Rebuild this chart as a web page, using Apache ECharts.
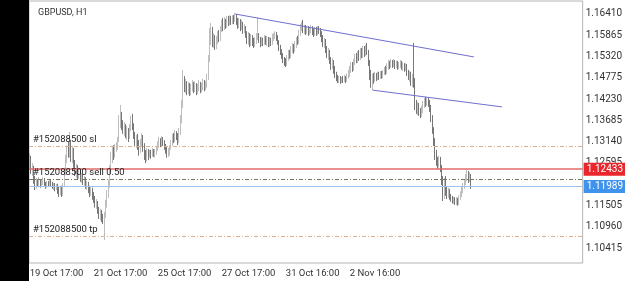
<!DOCTYPE html>
<html><head><meta charset="utf-8">
<script src="https://cdn.jsdelivr.net/npm/echarts@6/dist/echarts.min.js"></script>
<style>html,body{margin:0;padding:0;background:#fff}#c{width:625px;height:281px}</style>
</head><body><div id="c"></div>
<script>
// ---- data (OHLC per H1 bar: [open, close, low, high]) ----
const seg00 = [[1.1262,1.1273,1.1247,1.1285],[1.1273,1.1241,1.1231,1.1278],[1.1241,1.1247,1.1226,1.1259],[1.1247,1.1216,1.1206,1.1252],[1.1216,1.1201,1.1190,1.1226],[1.1201,1.1211,1.1193,1.1221],[1.1211,1.1206,1.1198,1.1218],[1.1206,1.1213,1.1201,1.1223],[1.1213,1.1203,1.1196,1.1218],[1.1203,1.1208,1.1198,1.1216],[1.1208,1.1216,1.1203,1.1223],[1.1216,1.1206,1.1201,1.1221],[1.1206,1.1201,1.1193,1.1211],[1.1201,1.1208,1.1196,1.1213],[1.1208,1.1203,1.1198,1.1213],[1.1203,1.1211,1.1201,1.1216],[1.1211,1.1206,1.1198,1.1218],[1.1206,1.1198,1.1193,1.1211],[1.1198,1.1203,1.1190,1.1208],[1.1203,1.1196,1.1187,1.1208],[1.1196,1.1201,1.1190,1.1206],[1.1201,1.1190,1.1180,1.1206],[1.1190,1.1182,1.1172,1.1198],[1.1182,1.1193,1.1177,1.1201]];
const seg01 = [[1.1193,1.1180,1.1172,1.1201],[1.1180,1.1203,1.1175,1.1208],[1.1203,1.1236,1.1198,1.1247],[1.1236,1.1267,1.1228,1.1280],[1.1267,1.1293,1.1259,1.1305],[1.1293,1.1280,1.1273,1.1313],[1.1280,1.1305,1.1273,1.1339],[1.1305,1.1273,1.1262,1.1318],[1.1273,1.1293,1.1259,1.1303],[1.1293,1.1254,1.1247,1.1298],[1.1254,1.1236,1.1226,1.1267],[1.1236,1.1247,1.1221,1.1257],[1.1247,1.1226,1.1216,1.1254],[1.1226,1.1236,1.1218,1.1247],[1.1236,1.1221,1.1211,1.1241],[1.1221,1.1226,1.1208,1.1233],[1.1226,1.1213,1.1203,1.1231],[1.1213,1.1218,1.1201,1.1226],[1.1218,1.1203,1.1193,1.1223],[1.1203,1.1206,1.1190,1.1213],[1.1206,1.1193,1.1182,1.1211],[1.1193,1.1185,1.1172,1.1201],[1.1185,1.1190,1.1175,1.1198],[1.1190,1.1175,1.1165,1.1196]];
const seg02 = [[1.1175,1.1167,1.1157,1.1185],[1.1167,1.1152,1.1145,1.1175],[1.1152,1.1157,1.1142,1.1167],[1.1157,1.1139,1.1129,1.1162],[1.1139,1.1126,1.1116,1.1147],[1.1126,1.1134,1.1113,1.1142],[1.1134,1.1119,1.1108,1.1139],[1.1119,1.1113,1.1103,1.1129],[1.1113,1.1126,1.1062,1.1134],[1.1126,1.1152,1.1119,1.1165],[1.1152,1.1177,1.1145,1.1190],[1.1177,1.1203,1.1170,1.1216],[1.1203,1.1241,1.1196,1.1254],[1.1241,1.1267,1.1233,1.1288],[1.1267,1.1293,1.1259,1.1303],[1.1293,1.1280,1.1267,1.1305],[1.1280,1.1298,1.1273,1.1308],[1.1298,1.1303,1.1288,1.1313],[1.1303,1.1318,1.1293,1.1326],[1.1318,1.1364,1.1313,1.1382],[1.1364,1.1374,1.1349,1.1408],[1.1374,1.1356,1.1344,1.1390],[1.1356,1.1344,1.1334,1.1369],[1.1344,1.1351,1.1328,1.1364]];
const seg03 = [[1.1351,1.1336,1.1323,1.1359],[1.1336,1.1344,1.1318,1.1354],[1.1344,1.1328,1.1313,1.1349],[1.1328,1.1349,1.1321,1.1359],[1.1349,1.1369,1.1341,1.1380],[1.1369,1.1354,1.1344,1.1385],[1.1354,1.1331,1.1321,1.1361],[1.1331,1.1313,1.1303,1.1339],[1.1313,1.1323,1.1298,1.1331],[1.1323,1.1305,1.1293,1.1334],[1.1305,1.1293,1.1278,1.1318],[1.1293,1.1310,1.1285,1.1321],[1.1310,1.1326,1.1300,1.1336],[1.1326,1.1300,1.1288,1.1331],[1.1300,1.1280,1.1267,1.1310],[1.1280,1.1273,1.1259,1.1293],[1.1273,1.1288,1.1264,1.1298],[1.1288,1.1278,1.1267,1.1295],[1.1278,1.1285,1.1273,1.1293],[1.1285,1.1280,1.1270,1.1293],[1.1280,1.1290,1.1275,1.1298],[1.1290,1.1283,1.1275,1.1295],[1.1283,1.1288,1.1273,1.1295],[1.1288,1.1295,1.1280,1.1303]];
const seg04 = [[1.1295,1.1305,1.1290,1.1315],[1.1305,1.1315,1.1298,1.1326],[1.1315,1.1308,1.1300,1.1323],[1.1308,1.1321,1.1300,1.1328],[1.1321,1.1310,1.1303,1.1326],[1.1310,1.1300,1.1293,1.1318],[1.1300,1.1293,1.1283,1.1308],[1.1293,1.1280,1.1273,1.1300],[1.1280,1.1288,1.1275,1.1298],[1.1288,1.1298,1.1278,1.1305],[1.1298,1.1308,1.1293,1.1318],[1.1308,1.1323,1.1303,1.1334],[1.1323,1.1318,1.1310,1.1336],[1.1318,1.1334,1.1313,1.1344],[1.1334,1.1326,1.1318,1.1341],[1.1326,1.1315,1.1305,1.1336],[1.1315,1.1339,1.1310,1.1349],[1.1339,1.1369,1.1331,1.1382],[1.1369,1.1408,1.1361,1.1421],[1.1408,1.1472,1.1400,1.1498],[1.1472,1.1452,1.1441,1.1482],[1.1452,1.1462,1.1438,1.1475],[1.1462,1.1446,1.1433,1.1469],[1.1446,1.1457,1.1436,1.1467]];
const seg05 = [[1.1457,1.1441,1.1431,1.1464],[1.1441,1.1452,1.1433,1.1462],[1.1452,1.1462,1.1443,1.1472],[1.1462,1.1449,1.1438,1.1467],[1.1449,1.1457,1.1441,1.1469],[1.1457,1.1446,1.1433,1.1464],[1.1446,1.1452,1.1436,1.1462],[1.1452,1.1459,1.1443,1.1472],[1.1459,1.1449,1.1438,1.1467],[1.1449,1.1457,1.1441,1.1464],[1.1457,1.1464,1.1446,1.1475],[1.1464,1.1454,1.1443,1.1472],[1.1454,1.1459,1.1446,1.1469],[1.1459,1.1477,1.1452,1.1488],[1.1477,1.1523,1.1472,1.1536],[1.1523,1.1574,1.1518,1.1605],[1.1574,1.1600,1.1562,1.1618],[1.1600,1.1569,1.1556,1.1608],[1.1569,1.1580,1.1554,1.1592],[1.1580,1.1562,1.1549,1.1587],[1.1562,1.1574,1.1551,1.1585],[1.1574,1.1587,1.1564,1.1597],[1.1587,1.1580,1.1569,1.1600],[1.1580,1.1600,1.1572,1.1610]];
const seg06 = [[1.1600,1.1613,1.1595,1.1626],[1.1613,1.1605,1.1597,1.1631],[1.1605,1.1621,1.1600,1.1633],[1.1621,1.1610,1.1603,1.1628],[1.1610,1.1626,1.1605,1.1636],[1.1626,1.1618,1.1610,1.1636],[1.1618,1.1628,1.1613,1.1638],[1.1628,1.1621,1.1613,1.1636],[1.1621,1.1631,1.1615,1.1638],[1.1631,1.1626,1.1615,1.1638],[1.1626,1.1636,1.1621,1.1644],[1.1636,1.1621,1.1613,1.1641],[1.1621,1.1613,1.1603,1.1631],[1.1613,1.1623,1.1605,1.1631],[1.1623,1.1608,1.1597,1.1628],[1.1608,1.1615,1.1600,1.1626],[1.1615,1.1600,1.1590,1.1621],[1.1600,1.1605,1.1592,1.1615],[1.1605,1.1587,1.1580,1.1610],[1.1587,1.1574,1.1564,1.1597],[1.1574,1.1585,1.1562,1.1595],[1.1585,1.1567,1.1556,1.1592],[1.1567,1.1580,1.1559,1.1590],[1.1580,1.1569,1.1559,1.1587]];
const seg07 = [[1.1569,1.1562,1.1554,1.1580],[1.1562,1.1572,1.1556,1.1582],[1.1572,1.1580,1.1564,1.1592],[1.1580,1.1585,1.1574,1.1633],[1.1585,1.1574,1.1567,1.1592],[1.1574,1.1564,1.1556,1.1582],[1.1564,1.1572,1.1559,1.1582],[1.1572,1.1567,1.1559,1.1580],[1.1567,1.1577,1.1562,1.1587],[1.1577,1.1569,1.1562,1.1585],[1.1569,1.1574,1.1559,1.1585],[1.1574,1.1564,1.1556,1.1582],[1.1564,1.1572,1.1556,1.1582],[1.1572,1.1567,1.1559,1.1580],[1.1567,1.1580,1.1562,1.1590],[1.1580,1.1585,1.1572,1.1592],[1.1585,1.1590,1.1577,1.1597],[1.1590,1.1580,1.1572,1.1595],[1.1580,1.1569,1.1562,1.1587],[1.1569,1.1554,1.1546,1.1574],[1.1554,1.1544,1.1536,1.1562],[1.1544,1.1533,1.1526,1.1551],[1.1533,1.1523,1.1515,1.1541],[1.1523,1.1518,1.1508,1.1531]];
const seg08 = [[1.1518,1.1513,1.1505,1.1528],[1.1513,1.1528,1.1508,1.1536],[1.1528,1.1539,1.1521,1.1549],[1.1539,1.1533,1.1526,1.1549],[1.1533,1.1549,1.1528,1.1559],[1.1549,1.1556,1.1541,1.1567],[1.1556,1.1549,1.1539,1.1564],[1.1549,1.1562,1.1544,1.1572],[1.1562,1.1574,1.1554,1.1582],[1.1574,1.1569,1.1562,1.1585],[1.1569,1.1590,1.1564,1.1600],[1.1590,1.1605,1.1585,1.1615],[1.1605,1.1610,1.1597,1.1621],[1.1610,1.1600,1.1592,1.1626],[1.1600,1.1605,1.1590,1.1613],[1.1605,1.1597,1.1587,1.1613],[1.1597,1.1603,1.1590,1.1610],[1.1603,1.1595,1.1585,1.1610],[1.1595,1.1600,1.1587,1.1608],[1.1600,1.1605,1.1592,1.1613],[1.1605,1.1597,1.1587,1.1610],[1.1597,1.1592,1.1582,1.1605],[1.1592,1.1600,1.1585,1.1608],[1.1600,1.1595,1.1585,1.1608]];
const seg09 = [[1.1595,1.1603,1.1587,1.1610],[1.1603,1.1597,1.1590,1.1610],[1.1597,1.1590,1.1582,1.1605],[1.1590,1.1580,1.1569,1.1597],[1.1580,1.1564,1.1556,1.1587],[1.1564,1.1572,1.1554,1.1580],[1.1572,1.1551,1.1541,1.1577],[1.1551,1.1536,1.1528,1.1559],[1.1536,1.1544,1.1523,1.1554],[1.1544,1.1523,1.1513,1.1549],[1.1523,1.1508,1.1498,1.1531],[1.1508,1.1515,1.1500,1.1528],[1.1515,1.1498,1.1488,1.1523],[1.1498,1.1485,1.1477,1.1508],[1.1485,1.1477,1.1469,1.1493],[1.1477,1.1472,1.1464,1.1485],[1.1472,1.1477,1.1464,1.1482],[1.1477,1.1469,1.1462,1.1482],[1.1469,1.1475,1.1464,1.1480],[1.1475,1.1472,1.1464,1.1482],[1.1472,1.1477,1.1467,1.1485],[1.1477,1.1472,1.1464,1.1482],[1.1472,1.1480,1.1467,1.1488],[1.1480,1.1488,1.1475,1.1498]];
const seg10 = [[1.1488,1.1498,1.1480,1.1508],[1.1498,1.1508,1.1490,1.1518],[1.1508,1.1503,1.1493,1.1518],[1.1503,1.1518,1.1495,1.1526],[1.1518,1.1528,1.1510,1.1539],[1.1528,1.1523,1.1515,1.1541],[1.1523,1.1536,1.1515,1.1546],[1.1536,1.1531,1.1521,1.1549],[1.1531,1.1544,1.1523,1.1554],[1.1544,1.1536,1.1528,1.1554],[1.1536,1.1549,1.1528,1.1559],[1.1549,1.1541,1.1531,1.1559],[1.1541,1.1551,1.1533,1.1562],[1.1551,1.1544,1.1536,1.1567],[1.1544,1.1518,1.1508,1.1549],[1.1518,1.1485,1.1472,1.1523],[1.1485,1.1464,1.1452,1.1498],[1.1464,1.1477,1.1446,1.1488],[1.1477,1.1472,1.1462,1.1490],[1.1472,1.1482,1.1467,1.1493],[1.1482,1.1477,1.1469,1.1490],[1.1477,1.1485,1.1472,1.1493],[1.1485,1.1480,1.1472,1.1493],[1.1480,1.1488,1.1475,1.1495]];
const seg11 = [[1.1488,1.1482,1.1475,1.1495],[1.1482,1.1490,1.1477,1.1498],[1.1490,1.1498,1.1485,1.1505],[1.1498,1.1493,1.1485,1.1508],[1.1493,1.1505,1.1488,1.1515],[1.1505,1.1513,1.1498,1.1523],[1.1513,1.1508,1.1500,1.1521],[1.1508,1.1515,1.1503,1.1526],[1.1515,1.1510,1.1503,1.1523],[1.1510,1.1518,1.1505,1.1526],[1.1518,1.1508,1.1500,1.1523],[1.1508,1.1513,1.1503,1.1521],[1.1513,1.1505,1.1498,1.1521],[1.1505,1.1510,1.1500,1.1518],[1.1510,1.1515,1.1503,1.1523],[1.1515,1.1505,1.1498,1.1521],[1.1505,1.1510,1.1495,1.1518],[1.1510,1.1503,1.1493,1.1515],[1.1503,1.1508,1.1495,1.1515],[1.1508,1.1493,1.1482,1.1513],[1.1493,1.1482,1.1472,1.1498],[1.1482,1.1488,1.1467,1.1495],[1.1488,1.1472,1.1457,1.1493],[1.1472,1.1477,1.1454,1.1488]];
const seg12 = [[1.1477,1.1467,1.1452,1.1567],[1.1467,1.1408,1.1395,1.1477],[1.1408,1.1395,1.1385,1.1421],[1.1395,1.1406,1.1382,1.1416],[1.1406,1.1390,1.1380,1.1413],[1.1390,1.1382,1.1374,1.1400],[1.1382,1.1395,1.1377,1.1406],[1.1395,1.1408,1.1387,1.1418],[1.1408,1.1418,1.1400,1.1426],[1.1418,1.1411,1.1403,1.1428],[1.1411,1.1421,1.1406,1.1428],[1.1421,1.1413,1.1403,1.1426],[1.1413,1.1400,1.1390,1.1421],[1.1400,1.1374,1.1364,1.1408],[1.1374,1.1344,1.1334,1.1382],[1.1344,1.1313,1.1303,1.1351],[1.1313,1.1280,1.1267,1.1323],[1.1280,1.1262,1.1252,1.1293],[1.1262,1.1254,1.1244,1.1275],[1.1254,1.1267,1.1247,1.1278],[1.1267,1.1247,1.1236,1.1275],[1.1247,1.1216,1.1203,1.1254],[1.1216,1.1175,1.1162,1.1226],[1.1175,1.1203,1.1167,1.1221]];
const seg13 = [[1.1203,1.1190,1.1175,1.1226],[1.1190,1.1180,1.1167,1.1198],[1.1180,1.1187,1.1170,1.1196],[1.1187,1.1175,1.1165,1.1193],[1.1175,1.1167,1.1160,1.1180],[1.1167,1.1162,1.1155,1.1175],[1.1162,1.1167,1.1155,1.1172],[1.1167,1.1160,1.1152,1.1172],[1.1160,1.1165,1.1152,1.1172],[1.1165,1.1157,1.1150,1.1170],[1.1157,1.1170,1.1152,1.1177],[1.1170,1.1177,1.1165,1.1187],[1.1177,1.1190,1.1172,1.1198],[1.1190,1.1201,1.1182,1.1208],[1.1201,1.1211,1.1193,1.1218],[1.1211,1.1221,1.1203,1.1231],[1.1221,1.1228,1.1213,1.1241],[1.1228,1.1218,1.1208,1.1239],[1.1218,1.1223,1.1211,1.1236],[1.1223,1.1199,1.1193,1.1231]];

const tickIndex  = [0, 48, 96, 144, 192, 240];
const tickLabels = ['19 Oct 17:00', '21 Oct 17:00', '25 Oct 17:00', '27 Oct 17:00', '31 Oct 16:00', '2 Nov 16:00'];
const priceTicks = [1.16410, 1.15865, 1.15320, 1.14775, 1.14230, 1.13685, 1.13140, 1.12595, 1.11505, 1.10960, 1.10415];
const orderId = '#152088500';
const orderSL = 1.13012, orderOpen = 1.12169, orderTP = 1.10713, orderLots = '0.50';
const redLevel = 1.12433, bidLevel = 1.11989;
const upperTrend = [[154, 1.1641], [333, 1.1531]];
const lowerTrend = [[257, 1.1446], [354, 1.1403]];
const slotCount = 415;

// ---- build ----
const candles = [].concat(seg00, seg01, seg02, seg03, seg04, seg05, seg06, seg07, seg08, seg09, seg10, seg11, seg12, seg13);
const cats = [];
for (let i = 0; i < slotCount; i++) cats.push(String(i));

const FONT = 'Roboto';
const dashDot = [4, 2, 1, 2];
const chart = echarts.init(document.getElementById('c'), null, {renderer: 'canvas'});
chart.setOption({
  animation: false,
  backgroundColor: '#ffffff',
  textStyle: {fontFamily: FONT},
  title: {text: 'GBPUSD, H1', left: 33, top: 3,
    textStyle: {fontSize: 9, fontWeight: 'normal', color: '#333', fontFamily: FONT}},
  grid: {left: 29, top: 1, width: 554, height: 262, show: true, borderColor: '#b4b4b4', borderWidth: 1, backgroundColor: '#fff'},
  graphic: [{type: 'rect', left: 0, top: 0, z: 100, shape: {width: 29, height: 281}, style: {fill: '#000'}}],
  xAxis: {
    type: 'category', data: cats, boundaryGap: true,
    axisLine: {show: false}, axisTick: {show: false}, splitLine: {show: false},
    axisLabel: {
      interval: (idx) => tickIndex.includes(idx),
      formatter: (v, idx) => { const k = tickIndex.indexOf(Number(v)); return k >= 0 ? tickLabels[k] : ''; },
      align: 'left', margin: 6, fontSize: 9.5, color: '#333', fontFamily: FONT
    }
  },
  yAxis: {
    type: 'value', position: 'right', scale: true,
    min: 1.10031, max: 1.16743,
    axisLine: {show: false}, axisTick: {show: false}, splitLine: {show: false},
    axisLabel: {customValues: priceTicks, formatter: (v) => v.toFixed(5), margin: 3, fontSize: 10, color: '#333', fontFamily: FONT, showMinLabel: true, showMaxLabel: true}
  },
  series: [{
    type: 'candlestick', data: candles, barWidth: 1,
    itemStyle: {color: '#a2a2a2', color0: '#3c3c3c', borderColor: '#a2a2a2', borderColor0: '#3c3c3c', borderWidth: 0.7},
    markLine: {
      symbol: 'none', silent: true, animation: false, precision: 5,
      data: [
        {yAxis: orderSL, lineStyle: {color: '#dcae8c', type: dashDot, width: 1},
          label: {show: true, position: 'insideStartTop', formatter: orderId + ' sl', color: '#222', fontSize: 9.5, distance: [4, 2], fontFamily: FONT}},
        {yAxis: orderOpen, lineStyle: {color: '#6f7a62', type: dashDot, width: 1},
          label: {show: true, position: 'insideStartTop', formatter: orderId + ' sell ' + orderLots, color: '#222', fontSize: 9.5, distance: [4, 2], fontFamily: FONT}},
        {yAxis: orderTP, lineStyle: {color: '#dcae8c', type: dashDot, width: 1},
          label: {show: true, position: 'insideStartTop', formatter: orderId + ' tp', color: '#222', fontSize: 9.5, distance: [4, 2], fontFamily: FONT}},
        {yAxis: redLevel, lineStyle: {color: '#e06a6a', type: 'solid', width: 1.5},
          label: {show: true, position: 'end', distance: 1, formatter: (p) => p.value.toFixed(5), color: '#fff', backgroundColor: '#e8262b', padding: [2, 3, 1, 3], fontSize: 10, fontFamily: FONT}},
        {yAxis: bidLevel, lineStyle: {color: '#9cc3ea', type: 'solid', width: 1},
          label: {show: true, position: 'end', distance: 1, formatter: (p) => p.value.toFixed(5), color: '#fff', backgroundColor: '#3f93ec', padding: [2, 3, 1, 3], fontSize: 10, fontFamily: FONT}},
        [{coord: upperTrend[0], lineStyle: {color: '#6f6fd0', type: 'solid', width: 1}, label: {show: false}}, {coord: upperTrend[1]}],
        [{coord: lowerTrend[0], lineStyle: {color: '#6f6fd0', type: 'solid', width: 1}, label: {show: false}}, {coord: lowerTrend[1]}]
      ]
    }
  }]
});
</script>
</body></html>
